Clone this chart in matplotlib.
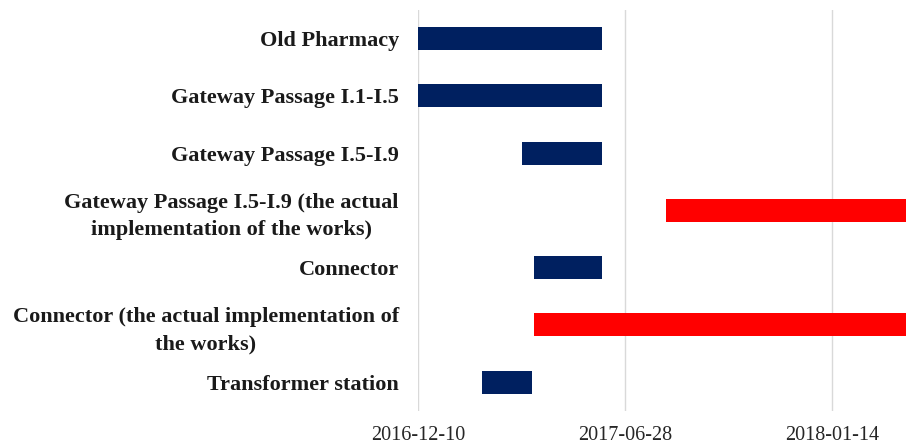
import matplotlib
matplotlib.use("Agg")
import matplotlib.pyplot as plt
import matplotlib.dates as mdates
import pandas as pd

# --- data ---
tasks = [
    "Old Pharmacy",
    "Gateway Passage I.1-I.5",
    "Gateway Passage I.5-I.9",
    "Gateway Passage I.5-I.9 (the actual\nimplementation of the works)",
    "Connector",
    "Connector (the actual implementation of\nthe works)",
    "Transformer station",
]
starts = ["2016-12-10", "2016-12-10", "2017-03-20", "2017-08-06",
          "2017-04-01", "2017-04-01", "2017-02-10"]
ends = ["2017-06-05", "2017-06-05", "2017-06-05", "2018-04-30",
        "2017-06-05", "2018-04-30", "2017-03-30"]
actual = [False, False, False, True, False, True, False]
tick_dates = ["2016-12-10", "2017-06-28", "2018-01-14"]
x_start, x_end = "2016-12-10", "2018-03-26"

plan_color = "#002060"
actual_color = "#ff0000"

plt.rcParams["font.family"] = ["Liberation Serif", "DejaVu Serif"]

s = mdates.date2num(pd.to_datetime(starts))
e = mdates.date2num(pd.to_datetime(ends))
colors = [actual_color if a else plan_color for a in actual]

fig = plt.figure(figsize=(9.06, 4.45), dpi=100)
ax = fig.add_axes([0.4617, 0.0771, 0.5383, 0.9004])

ypos = list(range(len(tasks)))
ax.barh(ypos, e - s, left=s, height=0.4, color=colors, zorder=3)

ax.set_ylim(len(tasks) - 0.5, -0.5)
ax.set_xlim(mdates.date2num(pd.Timestamp(x_start)), mdates.date2num(pd.Timestamp(x_end)))

ticks = mdates.date2num(pd.to_datetime(tick_dates))
ax.set_xticks(ticks)
ax.set_xticklabels(tick_dates, fontsize=14.5, color="#262626")
ax.set_yticks(ypos)
ax.set_yticklabels(tasks, fontsize=16, fontweight="bold", color="#1a1a1a",
                   multialignment="center", linespacing=1.45)

ax.tick_params(axis="x", length=0, pad=11)
ax.tick_params(axis="y", length=0, pad=14)
ax.grid(axis="x", color="#d9d9d9", linewidth=1, zorder=0)
for sp in ax.spines.values():
    sp.set_visible(False)

fig.savefig("out.png", dpi=100)
